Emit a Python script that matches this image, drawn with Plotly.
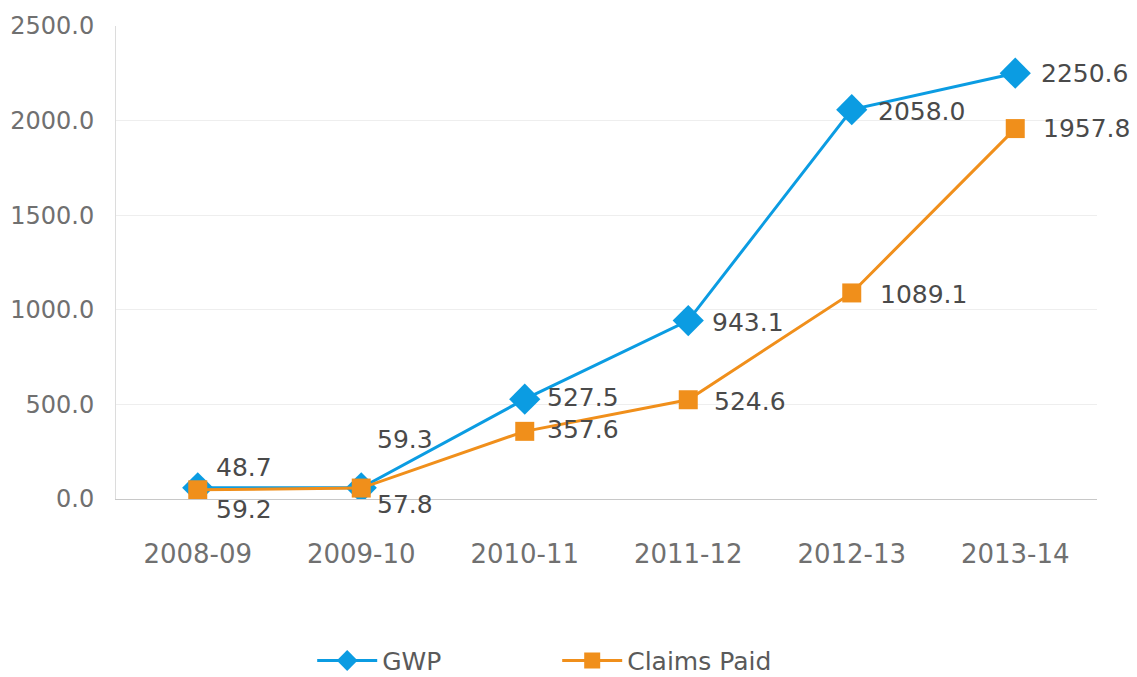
import plotly.graph_objects as go

years = ["2008-09", "2009-10", "2010-11", "2011-12", "2012-13", "2013-14"]
gwp = [59.2, 59.3, 527.5, 943.1, 2058.0, 2250.6]
claims = [48.7, 57.8, 357.6, 524.6, 1089.1, 1957.8]
y_ticks = [0, 500, 1000, 1500, 2000, 2500]

BLUE = "#0b9ce2"
ORANGE = "#f08f1b"
FONT = "DejaVu Sans, Verdana, sans-serif"

# per-point label offsets (pixels) relative to the marker
gwp_shift = [(16, -22), (14, 48), (20, 2), (22, -2), (24, -2), (24, 0)]
claims_shift = [(16, 22), (14, -16), (20, 2), (24, -2), (26, -2), (26, 0)]

fig = go.Figure()
fig.add_trace(go.Scatter(
    x=years, y=gwp, name="GWP", mode="lines+markers",
    line=dict(color=BLUE, width=3),
    marker=dict(symbol="diamond", size=24, color=BLUE),
))
fig.add_trace(go.Scatter(
    x=years, y=claims, name="Claims Paid", mode="lines+markers",
    line=dict(color=ORANGE, width=3),
    marker=dict(symbol="square", size=19, color=ORANGE),
))

annotations = []
for vals, shifts in ((gwp, gwp_shift), (claims, claims_shift)):
    for x, v, (dx, dy) in zip(years, vals, shifts):
        annotations.append(dict(
            x=x, y=v, text=f"{v:.1f}", showarrow=False,
            xanchor="left", yanchor="middle", xshift=dx, yshift=dy,
            font=dict(family=FONT, size=25, color="#4a4a4a"),
        ))

fig.update_layout(
    width=1137, height=677,
    margin=dict(l=116, r=40, t=26, b=178, autoexpand=False),
    paper_bgcolor="white", plot_bgcolor="white",
    font=dict(family=FONT, size=25, color="#707070"),
    annotations=annotations,
    showlegend=True,
    legend=dict(
        orientation="h", x=0.2, xanchor="left", y=-0.342, yanchor="middle",
        font=dict(family=FONT, size=25, color="#5a5a5a"),
        entrywidth=170, itemwidth=60,
    ),
    xaxis=dict(
        type="category", range=[-0.5, 5.5], automargin=False,
        showline=True, linecolor="#c8c8c8", linewidth=1,
        showgrid=False, ticks="", ticklen=0,
        tickfont=dict(family=FONT, size=26, color="#707070"),
        ticklabelstandoff=32,
    ),
    yaxis=dict(
        range=[0, 2500], tickvals=y_ticks, automargin=False,
        ticktext=[f"{t:.1f}" for t in y_ticks],
        showline=True, linecolor="#dcdcdc", linewidth=1,
        showgrid=True, gridcolor="#eeeeee", gridwidth=1,
        zeroline=False, ticks="",
        tickfont=dict(family=FONT, size=24, color="#707070"),
        ticklabelstandoff=16,
    ),
)

fig.write_html("out.html")
